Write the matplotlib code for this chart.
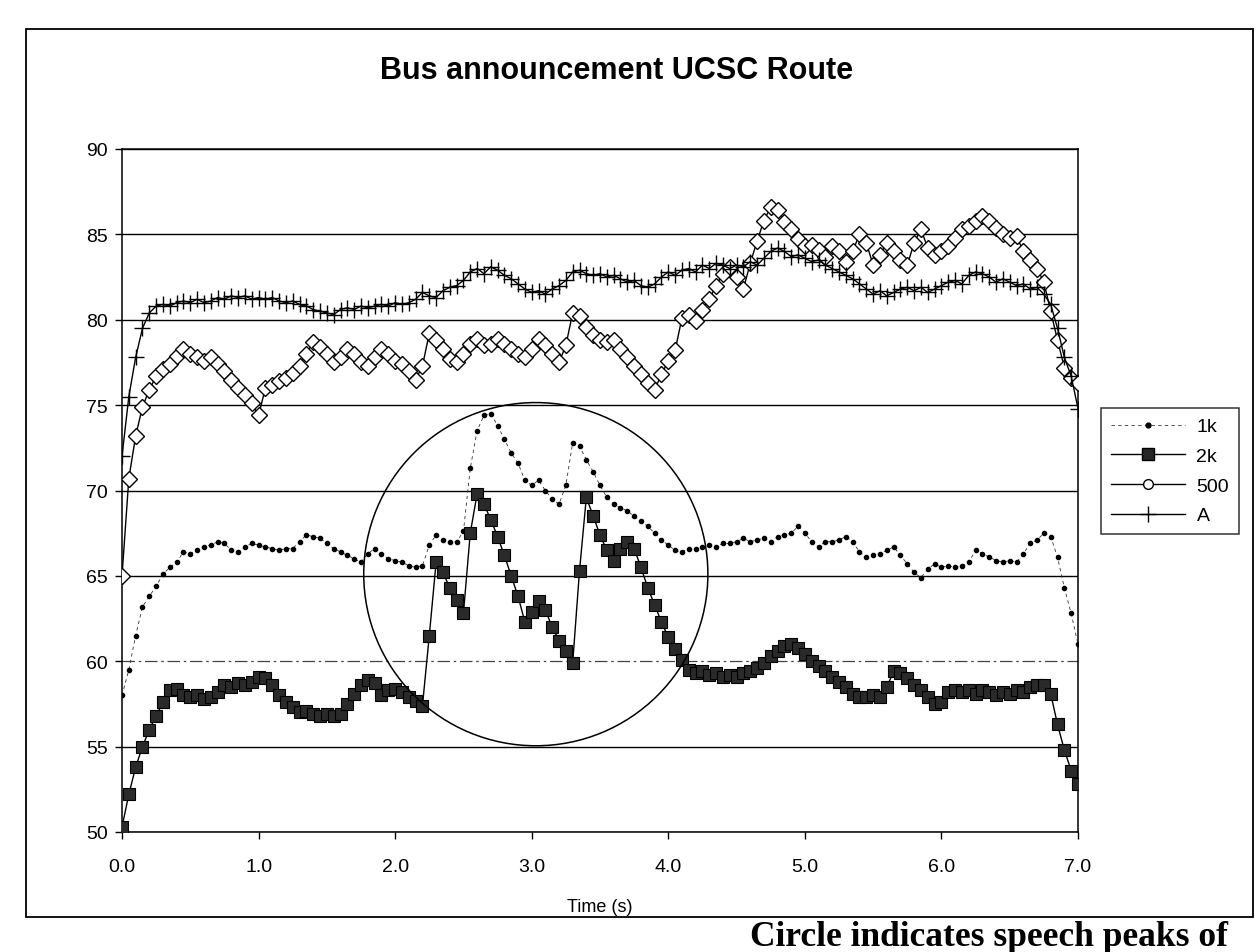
import numpy as np
import matplotlib
matplotlib.use("Agg")
import matplotlib.pyplot as plt
from matplotlib.patches import Ellipse, Rectangle
from matplotlib.lines import Line2D

plt.rcParams['font.family'] = ['Liberation Sans', 'DejaVu Sans']

# ---------------- data (0.05 s steps) ----------------
time_s = [round(i * 0.05, 2) for i in range(141)]

k1 = [58.0, 59.5, 61.5, 63.2, 63.8, 64.4, 65.1, 65.5, 65.8, 66.4,
      66.3, 66.5, 66.7, 66.8, 67.0, 66.9, 66.5, 66.4, 66.7, 66.9,
      66.8, 66.7, 66.6, 66.5, 66.6, 66.6, 67.0, 67.4, 67.3, 67.2,
      66.9, 66.6, 66.4, 66.2, 66.0, 65.8, 66.3, 66.6, 66.3, 66.0,
      65.9, 65.8, 65.6, 65.5, 65.6, 66.8, 67.4, 67.1, 67.0, 67.0,
      67.6, 71.3, 73.5, 74.4, 74.5, 73.8, 73.0, 72.2, 71.6, 70.6,
      70.3, 70.6, 70.0, 69.5, 69.2, 70.3, 72.8, 72.6, 71.8, 71.1,
      70.3, 69.6, 69.2, 69.0, 68.8, 68.5, 68.2, 67.9, 67.5, 67.1,
      66.8, 66.5, 66.4, 66.6, 66.6, 66.7, 66.8, 66.7, 66.9, 66.9,
      67.0, 67.2, 67.0, 67.1, 67.2, 67.0, 67.3, 67.4, 67.5, 67.9,
      67.5, 67.0, 66.7, 67.0, 67.0, 67.1, 67.3, 67.0, 66.4, 66.1,
      66.2, 66.3, 66.5, 66.7, 66.2, 65.7, 65.2, 64.9, 65.4, 65.7,
      65.5, 65.6, 65.5, 65.6, 65.8, 66.5, 66.3, 66.1, 65.9, 65.8,
      65.9, 65.8, 66.3, 66.9, 67.1, 67.5, 67.3, 66.1, 64.3, 62.8,
      61.0]

k2 = [50.3, 52.2, 53.8, 55.0, 56.0, 56.8, 57.6, 58.3, 58.4, 58.0,
      57.9, 58.0, 57.8, 57.9, 58.2, 58.6, 58.5, 58.7, 58.6, 58.8,
      59.1, 59.0, 58.6, 58.0, 57.6, 57.3, 57.0, 57.1, 56.9, 56.8,
      56.9, 56.8, 56.9, 57.5, 58.1, 58.6, 58.9, 58.7, 58.0, 58.3,
      58.4, 58.2, 57.9, 57.7, 57.4, 61.5, 65.8, 65.2, 64.3, 63.6,
      62.8, 67.5, 69.8, 69.2, 68.3, 67.3, 66.2, 65.0, 63.8, 62.3,
      62.9, 63.5, 63.0, 62.0, 61.2, 60.6, 59.9, 65.3, 69.6, 68.5,
      67.4, 66.5, 65.9, 66.6, 67.0, 66.6, 65.5, 64.3, 63.3, 62.3,
      61.4, 60.7, 60.1, 59.5, 59.3, 59.4, 59.2, 59.3, 59.1, 59.2,
      59.1, 59.3, 59.4, 59.6, 59.9, 60.3, 60.6, 60.9, 61.0, 60.8,
      60.4, 60.0, 59.7, 59.4, 59.1, 58.8, 58.5, 58.1, 57.9, 57.9,
      58.0, 57.9, 58.5, 59.4, 59.3, 59.0, 58.6, 58.3, 57.9, 57.5,
      57.6, 58.2, 58.3, 58.2, 58.3, 58.1, 58.3, 58.2, 58.0, 58.2,
      58.1, 58.3, 58.2, 58.5, 58.6, 58.6, 58.1, 56.3, 54.8, 53.6,
      52.8]

hz500 = [65.0, 70.7, 73.2, 74.9, 75.9, 76.7, 77.1, 77.4, 77.9, 78.3,
         78.0, 77.8, 77.6, 77.8, 77.4, 77.0, 76.5, 76.0, 75.6, 75.1,
         74.4, 76.0, 76.2, 76.4, 76.6, 76.9, 77.3, 78.0, 78.7, 78.4,
         78.0, 77.5, 77.8, 78.3, 78.0, 77.5, 77.3, 77.8, 78.3, 78.0,
         77.6, 77.4, 77.0, 76.5, 77.3, 79.2, 78.8, 78.3, 77.7, 77.5,
         78.0, 78.6, 78.9, 78.5, 78.6, 78.9, 78.6, 78.3, 78.0, 77.8,
         78.3, 78.9, 78.5, 78.0, 77.5, 78.5, 80.4, 80.2, 79.6, 79.1,
         78.8, 78.7, 78.8, 78.3, 77.8, 77.3, 76.8, 76.3, 75.9, 76.8,
         77.6, 78.2, 80.1, 80.3, 79.9, 80.6, 81.2, 82.0, 82.7, 83.1,
         82.5, 81.8, 83.3, 84.6, 85.8, 86.6, 86.4, 85.7, 85.3, 84.7,
         84.3, 84.4, 84.1, 83.7, 84.3, 84.0, 83.4, 84.0, 85.0, 84.5,
         83.2, 83.8, 84.5, 84.0, 83.5, 83.2, 84.5, 85.3, 84.2, 83.8,
         84.0, 84.3, 84.8, 85.3, 85.5, 85.8, 86.1, 85.8, 85.4, 85.0,
         84.8, 84.9, 84.0, 83.5, 83.0, 82.2, 80.5, 78.8, 77.2, 76.6,
         76.3]

a_wt = [72.0, 75.5, 77.8, 79.5, 80.4, 80.8, 80.9, 80.8, 81.0, 81.1,
        81.0, 81.2, 81.0, 81.1, 81.3, 81.2, 81.4, 81.3, 81.4, 81.2,
        81.3, 81.2, 81.3, 81.1, 81.0, 81.1, 80.9, 80.8, 80.6, 80.5,
        80.4, 80.3, 80.6, 80.7, 80.6, 80.8, 80.7, 80.8, 80.9, 80.8,
        81.0, 80.9, 81.0, 81.2, 81.6, 81.4, 81.3, 81.7, 81.9, 82.0,
        82.3, 82.8, 83.0, 82.7, 83.1, 82.9, 82.6, 82.4, 82.1, 81.8,
        81.6, 81.7, 81.5, 81.8, 82.0, 82.3, 82.8, 82.9, 82.7, 82.6,
        82.7, 82.5, 82.6, 82.4, 82.2, 82.3, 82.0, 81.9, 82.1, 82.5,
        82.8, 82.6, 82.9, 83.0, 82.8, 83.2, 83.0, 83.3, 83.2, 83.0,
        83.2, 83.1, 83.4, 83.2, 83.6, 84.0, 84.2, 84.0, 83.7, 83.8,
        83.6, 83.4, 83.5, 83.2, 83.0, 82.8, 82.6, 82.4, 82.1, 81.8,
        81.5, 81.7, 81.4, 81.6, 81.8, 81.9, 81.7, 81.9, 81.6, 81.8,
        82.0, 82.2, 82.3, 82.1, 82.6, 82.8, 82.7, 82.5, 82.2, 82.4,
        82.2, 82.0, 82.1, 81.8, 81.9, 81.5, 80.9, 79.5, 77.8, 76.7,
        74.8]

series_names = ["1k", "2k", "500", "A"]
x_ticks = [0, 1, 2, 3, 4, 5, 6, 7]
y_ticks = [50, 55, 60, 65, 70, 75, 80, 85, 90]
title = "Bus announcement UCSC Route"
x_label = "Time (s)"
caption = "Circle indicates speech peaks of"
circle_center = (3.03, 65.1)   # annotation circle (data units)
circle_size = (2.52, 20.1)

# ---------------- figure ----------------
W, H = 1259, 953
fig = plt.figure(figsize=(W / 100, H / 100), dpi=100)
fig.patch.set_facecolor("white")

ax = fig.add_axes([122 / W, 1 - 833 / H, (1078 - 122) / W, (833 - 150) / H])
ax.set_xlim(0, 7)
ax.set_ylim(50, 90)

# series
ax.plot(time_s, k1, color="#333333", lw=0.6, ls=(0, (4, 4)),
        marker="o", ms=3.0, mfc="black", mec="black", zorder=3)
ax.plot(time_s, k2, color="black", lw=1.0,
        marker="s", ms=9, mfc="#2a2a2a", mec="black", mew=0.8, zorder=4)
ax.plot(time_s, hz500, color="black", lw=1.0,
        marker="D", ms=8.5, mfc="white", mec="black", mew=1.0, zorder=5)
ax.plot(time_s, a_wt, color="black", lw=1.0,
        marker="+", ms=12, mec="black", mew=1.0, zorder=6)

# annotation circle
ax.add_patch(Ellipse(circle_center, circle_size[0], circle_size[1],
                     fill=False, ec="black", lw=1.1, zorder=7))

# grid & axes
ax.set_yticks(y_ticks)
ax.set_xticks(x_ticks)
ax.set_xticklabels([f"{v:.1f}" for v in x_ticks])
ax.yaxis.grid(True, color="black", lw=1.0)
ax.set_axisbelow(True)
for gl, yv in zip(ax.get_ygridlines(), y_ticks):
    if yv == 60:
        gl.set_linestyle((0, (10, 3, 2, 3)))
        gl.set_color("#444444")
        gl.set_linewidth(0.9)
for sp in ax.spines.values():
    sp.set_color("black")
    sp.set_linewidth(1.1)
ax.tick_params(axis="both", direction="out", length=5, width=1,
               labelsize=14, colors="black")
ax.tick_params(axis="x", pad=14)
ax.tick_params(axis="y", pad=5)
ax.set_xlabel(x_label, fontsize=13, labelpad=16)

# title
fig.text(617 / W, 1 - 71 / H, title, ha="center", va="center",
         fontsize=22, fontweight="bold")

# legend
handles = [
    Line2D([], [], color="#333333", lw=0.6, ls=(0, (4, 4)), marker="o",
           ms=3.5, mfc="black", mec="black"),
    Line2D([], [], color="black", lw=1.0, marker="s", ms=9,
           mfc="#262626", mec="black"),
    Line2D([], [], color="black", lw=1.0, marker="o", ms=7,
           mfc="white", mec="black"),
    Line2D([], [], color="black", lw=1.0, marker="+", ms=12, mew=1.0),
]
leg = fig.legend(handles, series_names, loc="center",
                 bbox_to_anchor=(1170 / W, 1 - 472 / H),
                 fontsize=14, handlelength=3.8, frameon=True,
                 fancybox=False, borderpad=0.5, labelspacing=0.62,
                 handletextpad=0.6)
leg.get_frame().set_edgecolor("black")
leg.get_frame().set_linewidth(1.1)

# outer chart border
fig.patches.append(Rectangle((26 / W, 1 - 918 / H), (1253 - 26) / W,
                             (918 - 30) / H, transform=fig.transFigure,
                             fill=False, ec="black", lw=1.3))

# cut-off caption at the bottom
fig.text(750 / W, 1 - 921 / H, caption, ha="left", va="top",
         fontsize=25.5, fontweight="bold",
         family=["Liberation Serif", "DejaVu Serif"])

fig.savefig("out.png", dpi=100, facecolor="white")
